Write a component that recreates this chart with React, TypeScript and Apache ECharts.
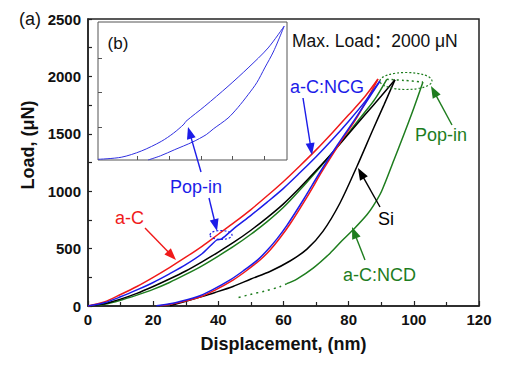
import { useEffect, useRef } from "react";
import * as echarts from "echarts";

const RED = "#f01a1a";
const BLUE = "#1c1ce8";
const BLACK = "#000000";
const GREEN = "#1e7d1e";
const FONT = "'Liberation Sans', Arial, Helvetica, 'Noto Sans CJK SC', sans-serif";

// Main chart: [displacement (nm), load (µN)]
const aCLoading = [[0,0],[5,35],[10,100],[15,170],[20,250],[25,335],[30,425],[35,520],[40,625],[45,730],[50,840],[55,960],[60,1085],[65,1220],[70,1360],[75,1510],[80,1665],[85,1825],[89,1977]];
const aCUnloading = [[89,1977],[82.6,1646],[77.3,1420],[72.1,1185],[67.2,949],[62,714],[58.9,592],[55.9,488],[52.8,401],[48.5,305],[44.5,226],[39,139],[34.4,78],[27.3,26],[22.1,2]];

const ncgLoading = [[0,0],[5,28],[10,80],[15,140],[20,205],[25,280],[30,360],[35,455],[39.5,575],[41,585],[45,680],[50,790],[55,905],[60,1025],[65,1160],[70,1300],[75,1450],[80,1610],[85,1780],[89.6,1960]];
const ncgUnloading = [[89.6,1960],[82,1630],[76.5,1400],[71.2,1165],[66.2,930],[61,700],[58,585],[55,485],[52,400],[47.6,305],[43.5,225],[38,138],[33.5,80],[26.5,27],[21,2]];

const siLoading = [[0,0],[5,20],[10,60],[15,110],[20,170],[25,235],[30,305],[35,385],[40,470],[45,560],[50,660],[55,770],[60,890],[65,1030],[70,1180],[75,1335],[80,1500],[85,1665],[90,1830],[94.2,1970]];
const siUnloading = [[94.2,1970],[90.8,1750],[87.5,1540],[82.6,1220],[77.3,895],[72.1,650],[67.2,495],[62,392],[56,303],[50,235],[44.5,170],[39,118],[34.4,78],[29.8,40],[25.2,3]];

const ncdLoading = [[0,0],[5,15],[10,50],[15,95],[20,145],[25,205],[30,275],[35,350],[40,435],[45,525],[50,625],[55,735],[60,860],[65,1010],[70,1170],[75,1335],[80,1510],[85,1690],[88,1800],[91.7,1975]];
const ncdPopIn = [[91.7,1975],[97,1965],[102.8,1951]];
const ncdUnloading = [[102.8,1951],[100,1725],[97,1498],[93.9,1272],[90.1,1000],[87.5,870],[85.6,795],[81.9,680],[78,570],[74.3,460],[69.1,330],[64.1,235],[61,195]];
const ncdUnloadingTail = [[61,195],[58.9,168],[54.3,130],[49.7,100],[46,72]];

// Inset (b): relative units 0-100
const insetUpper = [[0,0.5],[12.3,2],[22.9,6.5],[33.5,13.5],[40,19.5],[45.5,26],[46.5,28],[56.5,39],[68.8,53.4],[79.4,66.7],[90,81.2],[98.5,97]];
const insetLower = [[26.5,0],[33,3],[40.6,7.5],[50,13],[57.3,18.4],[61,22.5],[68.8,30.4],[74,38],[79.4,47.3],[84,56],[88.2,66.7],[93,79],[98.5,97]];
const insetXTicks = [20.8, 37.6, 54.4, 71.2, 88];
const insetYTicks = [24, 49, 74];

function arrow(x1: number, y1: number, x2: number, y2: number, color: string) {
  const L = 12, W = 4.5;
  const dx = x2 - x1, dy = y2 - y1;
  const d = Math.sqrt(dx * dx + dy * dy);
  const ux = dx / d, uy = dy / d;
  const bx = x2 - ux * L, by = y2 - uy * L;
  const px = -uy * W, py = ux * W;
  return [
    { type: "line", shape: { x1, y1, x2: bx + ux * 2, y2: by + uy * 2 }, style: { stroke: color, lineWidth: 1.4 }, z: 10 },
    { type: "polygon", shape: { points: [[x2, y2], [bx + px, by + py], [bx - px, by - py]] }, style: { fill: color }, z: 10 },
  ];
}

function label(text: string, x: number, y: number, color: string, size: number, align = "left") {
  return { type: "text", x, y, z: 10, style: { text, fill: color, font: `${size}px ${FONT}`, align, verticalAlign: "middle" } };
}

function lineSeries(data: number[][], color: string, idx = 0, extra: any = {}) {
  return {
    type: "line", data, xAxisIndex: idx, yAxisIndex: idx, symbol: "none", smooth: 0.3,
    lineStyle: { color, width: idx === 0 ? 1.5 : 1, ...(extra.lineStyle || {}) }, z: extra.z ?? 3,
  };
}

export default function App() {
  const ref = useRef<HTMLDivElement>(null);
  useEffect(() => {
    document.body.style.margin = "0";
    const chart = echarts.init(ref.current!, undefined, { renderer: "svg" });
    const axisText = { fontFamily: FONT, fontWeight: "bold", fontSize: 15, color: "#111", formatter: (v: number) => String(v) };
    chart.setOption({
      animation: false,
      backgroundColor: "#fff",
      grid: [
        { left: 88, top: 19, width: 391, height: 287, show: true, borderColor: "#222", borderWidth: 1.5, backgroundColor: "transparent" },
        { left: 98, top: 22, width: 189, height: 138, show: true, borderColor: "#555", borderWidth: 1, backgroundColor: "#fff" },
      ],
      xAxis: [
        {
          gridIndex: 0, type: "value", min: 0, max: 120, interval: 20,
          axisLine: { show: true, lineStyle: { color: "#222", width: 1.5 } },
          axisTick: { show: true, inside: true, length: 5, lineStyle: { color: "#222", width: 1.2 } },
          minorTick: { show: true, splitNumber: 2, length: 4, lineStyle: { color: "#222", width: 1.2 } },
          splitLine: { show: false },
          axisLabel: { ...axisText, margin: 6 },
          name: "Displacement, (nm)", nameLocation: "middle", nameGap: 29,
          nameTextStyle: { fontFamily: FONT, fontWeight: "bold", fontSize: 18, color: "#111" },
        },
        {
          gridIndex: 1, type: "value", min: 0, max: 100,
          axisLine: { show: false },
          axisTick: { show: true, inside: true, length: 4, customValues: insetXTicks, lineStyle: { color: "#555" } },
          axisLabel: { show: false }, splitLine: { show: false },
        },
      ],
      yAxis: [
        {
          gridIndex: 0, type: "value", min: 0, max: 2500, interval: 500,
          axisLine: { show: true, lineStyle: { color: "#222", width: 1.5 } },
          axisTick: { show: true, inside: true, length: 4, lineStyle: { color: "#222", width: 1.2 } },
          minorTick: { show: true, splitNumber: 2, length: 4, lineStyle: { color: "#222", width: 1.2 } },
          splitLine: { show: false },
          axisLabel: { ...axisText, margin: 7 },
        },
        {
          gridIndex: 1, type: "value", min: 0, max: 100,
          axisLine: { show: false },
          axisTick: { show: true, inside: true, length: 4, customValues: insetYTicks, lineStyle: { color: "#555" } },
          axisLabel: { show: false }, splitLine: { show: false },
        },
      ],
      series: [
        lineSeries(ncdLoading, GREEN),
        lineSeries(ncdPopIn, GREEN, 0, { lineStyle: { type: [2, 3] } }),
        lineSeries(ncdUnloading, GREEN),
        lineSeries(ncdUnloadingTail, GREEN, 0, { lineStyle: { type: [2, 4] } }),
        lineSeries(siLoading, BLACK),
        lineSeries(siUnloading, BLACK),
        lineSeries(aCUnloading, RED),
        lineSeries(aCLoading, RED),
        lineSeries(ncgUnloading, BLUE),
        lineSeries(ncgLoading, BLUE),
        lineSeries(insetUpper, "#3030e0", 1, { z: 5 }),
        lineSeries(insetLower, "#3030e0", 1, { z: 5 }),
      ],
      graphic: [
        { type: "text", x: 28, y: 145, rotation: Math.PI / 2, z: 10,
          style: { text: "Load, (μN)", fill: "#111", font: `bold 18px ${FONT}`, align: "center", verticalAlign: "middle" } },
        label("(a)", 30, 19, "#111", 18, "center"),
        label("(b)", 118, 43, "#111", 17, "center"),
        label("Max. Load：2000 μN", 292, 41, "#111", 17.5),
        label("a-C:NCG", 290, 87, BLUE, 18),
        label("Pop-in", 415, 135, GREEN, 18),
        label("Pop-in", 170, 187, BLUE, 18),
        label("a-C", 115, 218, RED, 18),
        label("Si", 378, 219, BLACK, 18),
        label("a-C:NCD", 343, 275, GREEN, 18),
        ...arrow(303, 98, 312, 155, BLUE),
        ...arrow(452, 125, 431, 86, GREEN),
        ...arrow(201, 172, 188, 127, BLUE),
        ...arrow(209, 198, 217, 231, BLUE),
        ...arrow(145, 228, 176, 260, RED),
        ...arrow(380, 207, 358, 168, BLACK),
        ...arrow(365, 260, 352, 227, GREEN),
        { type: "ellipse", shape: { cx: 406, cy: 81, rx: 26, ry: 8.5 }, z: 10,
          style: { fill: "none", stroke: GREEN, lineWidth: 1.2, lineDash: [2, 2] } },
        { type: "ellipse", shape: { cx: 221, cy: 235, rx: 11, ry: 4.5 }, z: 10,
          style: { fill: "none", stroke: BLUE, lineWidth: 1.2, lineDash: [2, 2] } },
      ],
    });
    return () => chart.dispose();
  }, []);
  return <div ref={ref} style={{ width: 512, height: 368 }} />;
}
